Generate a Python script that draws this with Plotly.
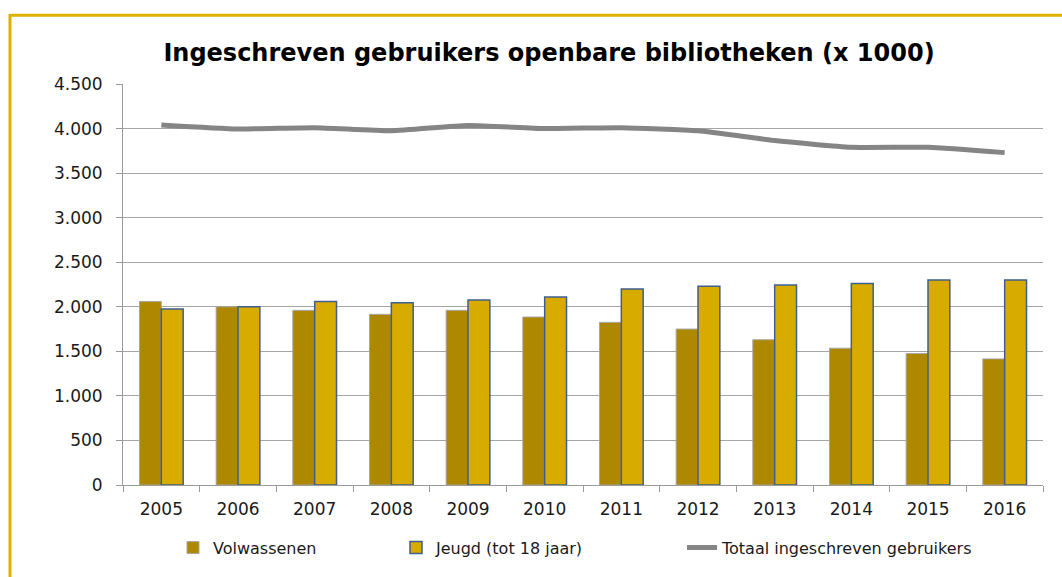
import plotly.graph_objects as go

years = ["2005", "2006", "2007", "2008", "2009", "2010",
         "2011", "2012", "2013", "2014", "2015", "2016"]
volwassenen = [2060, 2000, 1960, 1915, 1960, 1885, 1825, 1750, 1630, 1535, 1475, 1415]
jeugd = [1975, 2000, 2060, 2045, 2075, 2110, 2200, 2230, 2245, 2260, 2300, 2300]
totaal = [4040, 3995, 4010, 3975, 4035, 4000, 4010, 3975, 3865, 3790, 3790, 3730]
y_tick_vals = [0, 500, 1000, 1500, 2000, 2500, 3000, 3500, 4000, 4500]
y_tick_labels = ["0", "500", "1.000", "1.500", "2.000", "2.500",
                 "3.000", "3.500", "4.000", "4.500"]

FONT = "DejaVu Sans"
W, H = 1062, 577
ML, MR, MT, MB = 123, 19, 84, 90
PW, PH = W - ML - MR, H - MT - MB


def px_x(p):
    return (p - ML) / PW


def px_y(p):
    return (H - MB - p) / PH


fig = go.Figure()
fig.add_trace(go.Bar(
    x=years, y=volwassenen, name="Volwassenen",
    marker=dict(color="#AD8800", line=dict(color="#A6A6A6", width=1)),
    legend="legend", showlegend=True,
))
fig.add_trace(go.Bar(
    x=years, y=jeugd, name="Jeugd (tot 18 jaar)",
    marker=dict(color="#D8AB00", line=dict(color="#3F5F8F", width=1.5)),
    legend="legend2", showlegend=True,
))
fig.add_trace(go.Scatter(
    x=years, y=totaal, name="Totaal ingeschreven gebruikers",
    mode="lines", line=dict(color="#858585", width=5, shape="spline", smoothing=0.5),
    legend="legend3", showlegend=True,
))

legend_common = dict(orientation="h", yanchor="middle", xanchor="left",
                     font=dict(family=FONT, size=16, color="#1a1a1a"),
                     bgcolor="rgba(0,0,0,0)")
ly = px_y(550)

fig.update_layout(
    width=W, height=H,
    margin=dict(l=ML, r=MR, t=MT, b=MB),
    paper_bgcolor="white", plot_bgcolor="white",
    showlegend=True,
    barmode="group", bargap=0.43, bargroupgap=0.0,
    title=dict(text="<b>Ingeschreven gebruikers openbare bibliotheken (x 1000)</b>",
               x=549 / W, xanchor="center", xref="container",
               y=1 - 53 / H, yanchor="middle", yref="container",
               font=dict(family=FONT, size=24, color="#000000")),
    legend=dict(x=px_x(173), y=ly, **legend_common),
    legend2=dict(x=px_x(396), y=ly, **legend_common),
    legend3=dict(x=px_x(682), y=ly, **legend_common),
    xaxis=dict(type="category", tickson="boundaries", ticks="outside", ticklen=6,
               tickcolor="#9a9a9a", showline=True, linecolor="#9a9a9a", linewidth=1,
               showgrid=False, ticklabelstandoff=9,
               tickfont=dict(family=FONT, size=17, color="#1a1a1a")),
    yaxis=dict(range=[0, 4500], tickvals=y_tick_vals, ticktext=y_tick_labels,
               ticks="outside", ticklen=6, tickcolor="#9a9a9a",
               showline=True, linecolor="#9a9a9a", linewidth=1,
               showgrid=True, gridcolor="#A6A6A6", gridwidth=1, zeroline=False,
               ticklabelstandoff=10,
               tickfont=dict(family=FONT, size=17, color="#1a1a1a")),
    shapes=[
        dict(type="line", xref="paper", yref="paper",
             x0=px_x(10), x1=px_x(10), y0=px_y(14), y1=px_y(600),
             line=dict(color="#DDB100", width=3)),
        dict(type="line", xref="paper", yref="paper",
             x0=px_x(9), x1=px_x(1070), y0=px_y(15), y1=px_y(15),
             line=dict(color="#DDB100", width=3)),
    ],
)

fig.write_html("out.html",
               config={"displayModeBar": False},
               post_script="document.body.style.margin='0px';document.body.style.overflow='hidden';")
